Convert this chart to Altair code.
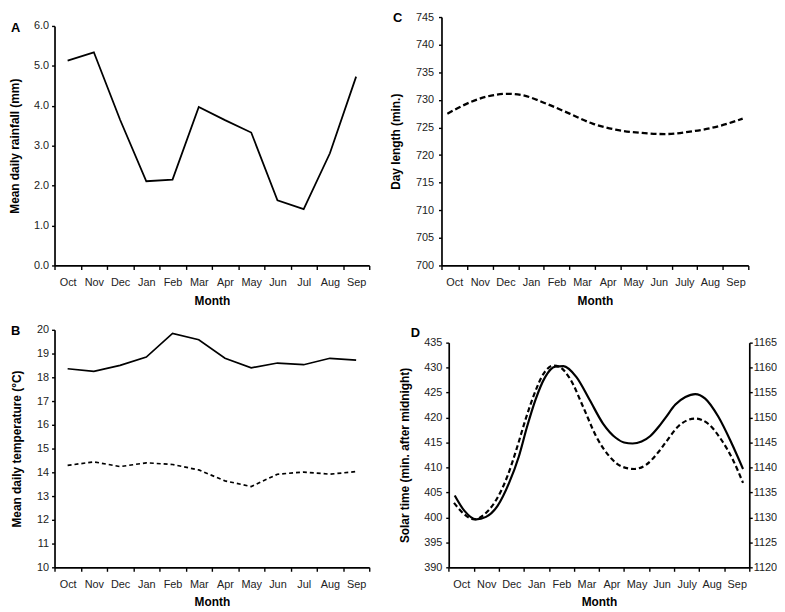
import altair as alt
import pandas as pd

FONT = "Liberation Sans"

# ---------------- data ----------------
months_ab = ["Oct", "Nov", "Dec", "Jan", "Feb", "Mar", "Apr", "May", "Jun", "Jul", "Aug", "Sep"]
months_cd = ["Oct", "Nov", "Dec", "Jan", "Feb", "Mar", "Apr", "May", "Jun", "July", "Aug", "Sep"]

# A: mean daily rainfall (mm), one value per month
rainfall = [5.13, 5.34, 3.65, 2.11, 2.15, 3.97, 3.64, 3.33, 1.63, 1.41, 2.81, 4.73]

# B: mean daily temperature (°C)
temp_solid = [18.36, 18.25, 18.50, 18.85, 19.85, 19.58, 18.80, 18.40, 18.60, 18.53, 18.80, 18.72]
temp_dashed = [14.29, 14.44, 14.24, 14.40, 14.33, 14.10, 13.64, 13.40, 13.92, 14.01, 13.92, 14.03]

# C: day length (min.) (position in months from start of Oct)
day_pos = [0.23, 1.14, 1.78, 2.62, 3.20, 4.10, 5.01, 5.91, 6.81, 7.84, 8.75, 9.65, 10.55, 11.20, 11.78]
day_len = [727.5, 729.6, 730.6, 731.1, 730.8, 729.3, 727.5, 725.7, 724.6, 724.0, 723.8, 724.2, 724.9, 725.7, 726.6]

# D: solar time (min. after midnight); solid on left axis, dashed on right axis
rise_pos = [0.24, 0.63, 1.09, 1.49, 1.95, 2.41, 2.80, 3.13, 3.46, 3.85, 4.25, 4.58, 5.10, 5.63,
            6.16, 6.68, 7.00, 7.34, 7.70, 8.05, 8.39, 8.66, 9.05, 9.45, 9.84, 10.24, 10.76, 11.29, 11.75]
rise_val = [404.4, 401.3, 399.6, 400.1, 402.3, 406.9, 412.2, 418.2, 423.5, 428.1, 430.2, 430.3, 428.1, 423.5,
            418.8, 415.9, 415.0, 414.8, 415.2, 416.3, 418.2, 420.0, 422.6, 424.1, 424.7, 423.8, 420.2,
            414.9, 409.7]
set_pos = [0.21, 0.63, 1.03, 1.42, 1.82, 2.34, 2.74, 3.06, 3.40, 3.79, 4.18, 4.40, 4.84, 5.37,
           5.89, 6.42, 6.95, 7.41, 7.87, 8.39, 8.66, 9.18, 9.84, 10.37, 10.89, 11.35, 11.75]
set_val = [1132.9, 1130.6, 1129.6, 1130.6, 1132.9, 1138.2, 1144.2, 1149.5, 1154.5, 1158.8, 1160.4, 1160.2,
           1157.8, 1152.1, 1146.2, 1142.2, 1140.1, 1139.7, 1140.5, 1143.2, 1145.0, 1148.3, 1149.8, 1148.7,
           1145.5, 1141.5, 1136.9]

ticks_a = [0, 1, 2, 3, 4, 5, 6]
ticks_b = list(range(10, 21))
ticks_c = list(range(700, 746, 5))
ticks_d_left = list(range(390, 436, 5))
ticks_d_right = list(range(1120, 1166, 5))

# ---------------- helpers ----------------
W1, W2 = 318, 311
H1, H2 = 251, 240
D_OFF = 7.3


def x_axis(names, band):
    arr = "[" + ",".join("'%s'" % n for n in names) + "]"
    return alt.Axis(
        values=list(range(13)), labelExpr=arr + "[datum.value] || ''",
        labelOffset=band / 2, labelFlush=False, labelOverlap=False, labelBound=False,
        title="Month", tickSize=4, labelPadding=7, titlePadding=8, grid=False,
    )


def y_axis(vals, title, fmt=None, pad=12, lpad=3, offset=None):
    kw = dict(values=vals, title=title, tickSize=3, labelPadding=lpad, titlePadding=pad, grid=False)
    if fmt:
        kw["format"] = fmt
    if offset is not None:
        kw["offset"] = offset
    return alt.Axis(**kw)


def letter(ch, px, py):
    return alt.Chart(pd.DataFrame({"t": [ch]})).mark_text(
        align="left", baseline="middle", fontSize=13, fontWeight="bold", font=FONT, color="black"
    ).encode(x=alt.value(px), y=alt.value(py), text="t:N")


# ---------------- panel A ----------------
dfA = pd.DataFrame({"m": [i + 0.5 for i in range(12)], "v": rainfall})
xA = alt.X("m:Q", scale=alt.Scale(domain=[0, 12], range=[0, W1]), axis=x_axis(months_ab, W1 / 12))
lineA = alt.Chart(dfA).mark_line(color="black", strokeWidth=1.8).encode(
    x=xA,
    y=alt.Y("v:Q", scale=alt.Scale(domain=[0, 6], range=[H1, 9]),
            axis=y_axis(ticks_a, "Mean daily rainfall (mm)", ".1f", 12)),
)
pA = alt.layer(lineA, letter("A", -44, 11)).properties(width=W1, height=H1)

# ---------------- panel B ----------------
dfB = pd.DataFrame({
    "m": [i + 0.5 for i in range(12)] * 2,
    "v": temp_solid + temp_dashed,
    "s": ["solid"] * 12 + ["dashed"] * 12,
})
xB = alt.X("m:Q", scale=alt.Scale(domain=[0, 12], range=[0, W1]), axis=x_axis(months_ab, W1 / 12))
yB = alt.Y("v:Q", scale=alt.Scale(domain=[10, 20], range=[H2, 0]),
           axis=y_axis(ticks_b, "Mean daily temperature (°C)", None, 13))
lineB1 = alt.Chart(dfB).transform_filter("datum.s == 'solid'").mark_line(
    color="black", strokeWidth=1.7).encode(x=xB, y=yB)
lineB2 = alt.Chart(dfB).transform_filter("datum.s == 'dashed'").mark_line(
    color="black", strokeWidth=1.7, strokeDash=[4, 3]).encode(x=xB, y=yB)
pB = alt.layer(lineB1, lineB2, letter("B", -44, 1.5)).properties(width=W1, height=H2)

# ---------------- panel C ----------------
dfC = pd.DataFrame({"m": day_pos, "v": day_len})
lineC = alt.Chart(dfC).mark_line(color="black", strokeWidth=2.3, strokeDash=[6, 3],
                                 interpolate="monotone").encode(
    x=alt.X("m:Q", scale=alt.Scale(domain=[0, 12], range=[0, 310]), axis=x_axis(months_cd, 310 / 12)),
    y=alt.Y("v:Q", scale=alt.Scale(domain=[700, 745], range=[H1, 0]),
            axis=y_axis(ticks_c, "Day length (min.)", None, 13, 5)),
)
pC = alt.layer(lineC, letter("C", -49, 1)).properties(width=W2, height=H1)

# ---------------- panel D ----------------
dfD1 = pd.DataFrame({"m": rise_pos, "v": rise_val})
dfD2 = pd.DataFrame({"m": set_pos, "v": set_val})
xD = alt.X("m:Q", scale=alt.Scale(domain=[0, 12], range=[D_OFF, W2]),
           axis=x_axis(months_cd, (W2 - D_OFF) / 12))
lineD1 = alt.Chart(dfD1).mark_line(color="black", strokeWidth=2.2, interpolate="monotone").encode(
    x=xD,
    y=alt.Y("v:Q", scale=alt.Scale(domain=[390, 435], range=[H2, 13]),
            axis=y_axis(ticks_d_left, "Solar time (min. after midnight)", None, 12, 4, -D_OFF)),
)
lineD2 = alt.Chart(dfD2).mark_line(color="black", strokeWidth=2.2, strokeDash=[5, 3],
                                   interpolate="monotone").encode(
    x=xD,
    y=alt.Y("v:Q", scale=alt.Scale(domain=[1120, 1165], range=[H2, 13]),
            axis=alt.Axis(values=ticks_d_right, title=None, orient="right", tickSize=3, format="d",
                          labelPadding=1, grid=False)),
)
pD = alt.layer(lineD1, lineD2, letter("D", -31, 3)).resolve_scale(y="independent").properties(
    width=W2, height=H2)

chart = alt.concat(
    pA, pC, pB, pD, columns=2, spacing={"row": 65, "column": 73}, bounds="flush"
).properties(
    padding={"left": 0, "top": 0, "right": 0, "bottom": 0}
).configure(font=FONT).configure_view(stroke=None).configure_axis(
    domainColor="black", domainWidth=1.7, tickColor="black", tickWidth=1.4,
    labelFont=FONT, labelFontSize=11, labelColor="#222222",
    titleFont=FONT, titleFontSize=12, titleFontWeight="bold", titleColor="black",
)

chart.save("out.html", embed_options={"renderer": "svg", "actions": False})
